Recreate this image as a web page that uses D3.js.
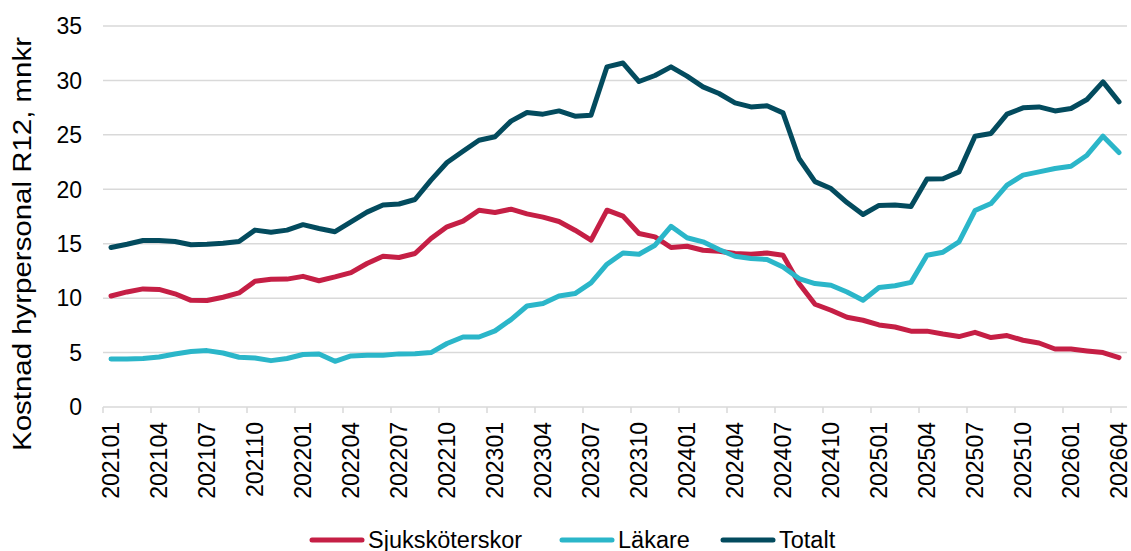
<!DOCTYPE html>
<html>
<head>
<meta charset="utf-8">
<script src="https://cdn.jsdelivr.net/npm/d3@7"></script>
<style>
  body { margin: 0; background: #fff; }
  svg { display: block; font-family: "Liberation Sans", Arial, sans-serif; }
</style>
</head>
<body>
<div id="chart"></div>
<script>
const months = [
  '202101','202102','202103','202104','202105','202106','202107','202108','202109','202110','202111','202112',
  '202201','202202','202203','202204','202205','202206','202207','202208','202209','202210','202211','202212',
  '202301','202302','202303','202304','202305','202306','202307','202308','202309','202310','202311','202312',
  '202401','202402','202403','202404','202405','202406','202407','202408','202409','202410','202411','202412',
  '202501','202502','202503','202504','202505','202506','202507','202508','202509','202510','202511','202512',
  '202601','202602','202603','202604'
];

const sjukskoterskor = [
  10.2, 10.57, 10.85, 10.8, 10.4, 9.8, 9.78, 10.08, 10.48, 11.55, 11.73, 11.75,
  12.0, 11.6, 11.95, 12.35, 13.18, 13.85, 13.73, 14.1, 15.48, 16.55, 17.07, 18.08,
  17.87, 18.17, 17.74, 17.44, 17.04, 16.24, 15.32, 18.08, 17.53, 15.94, 15.63, 14.65,
  14.77, 14.4, 14.31, 14.1, 14.03, 14.15, 13.94, 11.34, 9.44, 8.89, 8.24, 7.97,
  7.54, 7.35, 6.97, 6.97, 6.7, 6.47, 6.86, 6.38, 6.56, 6.13, 5.88, 5.33,
  5.33, 5.15, 5.0, 4.54
];

const lakare = [
  4.41, 4.4, 4.46, 4.6, 4.87, 5.09, 5.18, 4.96, 4.57, 4.5, 4.26, 4.46,
  4.82, 4.87, 4.2, 4.69, 4.75, 4.75, 4.88, 4.9, 5.0, 5.83, 6.43, 6.43,
  6.99, 8.03, 9.28, 9.5, 10.2, 10.42, 11.4, 13.12, 14.15, 14.03, 14.86, 16.6,
  15.55, 15.17, 14.47, 13.85, 13.64, 13.55, 12.87, 11.8, 11.34, 11.19, 10.57, 9.81,
  10.97, 11.14, 11.45, 13.94, 14.22, 15.17, 18.05, 18.69, 20.38, 21.3, 21.6, 21.91,
  22.12, 23.13, 24.88, 23.38
];

const totalt = [
  14.65, 14.95, 15.3, 15.3, 15.2, 14.9, 14.95, 15.05, 15.2, 16.25, 16.05, 16.25,
  16.75, 16.4, 16.1, 17.0, 17.9, 18.55, 18.65, 19.06, 20.84, 22.46, 23.5, 24.5,
  24.82, 26.26, 27.05, 26.9, 27.2, 26.72, 26.8, 31.25, 31.6, 29.9, 30.45, 31.25,
  30.4, 29.41, 28.8, 27.94, 27.57, 27.67, 27.02, 22.83, 20.7, 20.07, 18.78, 17.68,
  18.52, 18.55, 18.42, 20.95, 20.97, 21.6, 24.88, 25.13, 26.9, 27.48, 27.57, 27.2,
  27.42, 28.25, 29.87, 28.03
];

const yTicks = [0, 5, 10, 15, 20, 25, 30, 35];

const series = [
  {name: 'Sjuksköterskor', values: sjukskoterskor, color: '#c51f45'},
  {name: 'Läkare', values: lakare, color: '#2bb6c9'},
  {name: 'Totalt', values: totalt, color: '#034b5e'},
];

const width = 1131;
const height = 551;
const margin = {top: 26, right: 4, bottom: 144, left: 103};

const svg = d3.select('#chart')
  .append('svg')
  .attr('width', width)
  .attr('height', height);

const x = d3.scaleBand()
  .domain(months)
  .range([margin.left, width - margin.right])
  .padding(0);

const y = d3.scaleLinear()
  .domain([0, 35])
  .range([height - margin.bottom, margin.top]);

const gridColor = '#d9d9d9';

// gridlines
svg.append('g')
  .selectAll('line')
  .data(yTicks)
  .join('line')
  .attr('x1', margin.left)
  .attr('x2', width - margin.right)
  .attr('y1', d => y(d))
  .attr('y2', d => y(d))
  .attr('stroke', gridColor)
  .attr('stroke-width', 1.5);

// y labels
svg.append('g')
  .selectAll('text')
  .data(yTicks)
  .join('text')
  .attr('x', 82)
  .attr('y', d => y(d))
  .attr('dy', '0.36em')
  .attr('text-anchor', 'end')
  .attr('font-size', 23)
  .attr('fill', '#000')
  .text(d => d);

// x ticks every 3 months
const tickMonths = months.filter((m, i) => i % 3 === 0);
svg.append('g')
  .selectAll('line')
  .data(tickMonths)
  .join('line')
  .attr('x1', d => x(d))
  .attr('x2', d => x(d))
  .attr('y1', y(0))
  .attr('y2', y(0) + 6)
  .attr('stroke', gridColor)
  .attr('stroke-width', 1.5);

svg.append('g')
  .selectAll('text')
  .data(tickMonths)
  .join('text')
  .attr('transform', d => `translate(${x(d) + x.bandwidth() / 2},${y(0) + 15}) rotate(-90)`)
  .attr('dy', '0.36em')
  .attr('text-anchor', 'end')
  .attr('font-size', 23)
  .attr('fill', '#000')
  .text(d => d);

// y title
svg.append('text')
  .attr('transform', 'translate(22,244) rotate(-90)')
  .attr('dy', '0.36em')
  .attr('text-anchor', 'middle')
  .attr('font-size', 25)
  .attr('textLength', 414)
  .attr('lengthAdjust', 'spacingAndGlyphs')
  .attr('fill', '#000')
  .text('Kostnad hyrpersonal R12, mnkr');

// lines
const line = d3.line()
  .x((d, i) => x(months[i]) + x.bandwidth() / 2)
  .y(d => y(d));

svg.append('g')
  .selectAll('path')
  .data(series)
  .join('path')
  .attr('d', d => line(d.values))
  .attr('fill', 'none')
  .attr('stroke', d => d.color)
  .attr('stroke-width', 5)
  .attr('stroke-linejoin', 'round')
  .attr('stroke-linecap', 'round');

// legend
const legendX = [310, 560, 721];
const legend = svg.append('g')
  .selectAll('g')
  .data(series)
  .join('g')
  .attr('transform', (d, i) => `translate(${legendX[i]},540)`);

legend.append('line')
  .attr('x1', 2)
  .attr('x2', 52)
  .attr('stroke', d => d.color)
  .attr('stroke-width', 5)
  .attr('stroke-linecap', 'round');

legend.append('text')
  .attr('x', 58)
  .attr('dy', '0.36em')
  .attr('font-size', 23.5)
  .attr('fill', '#000')
  .text(d => d.name);
</script>
</body>
</html>
